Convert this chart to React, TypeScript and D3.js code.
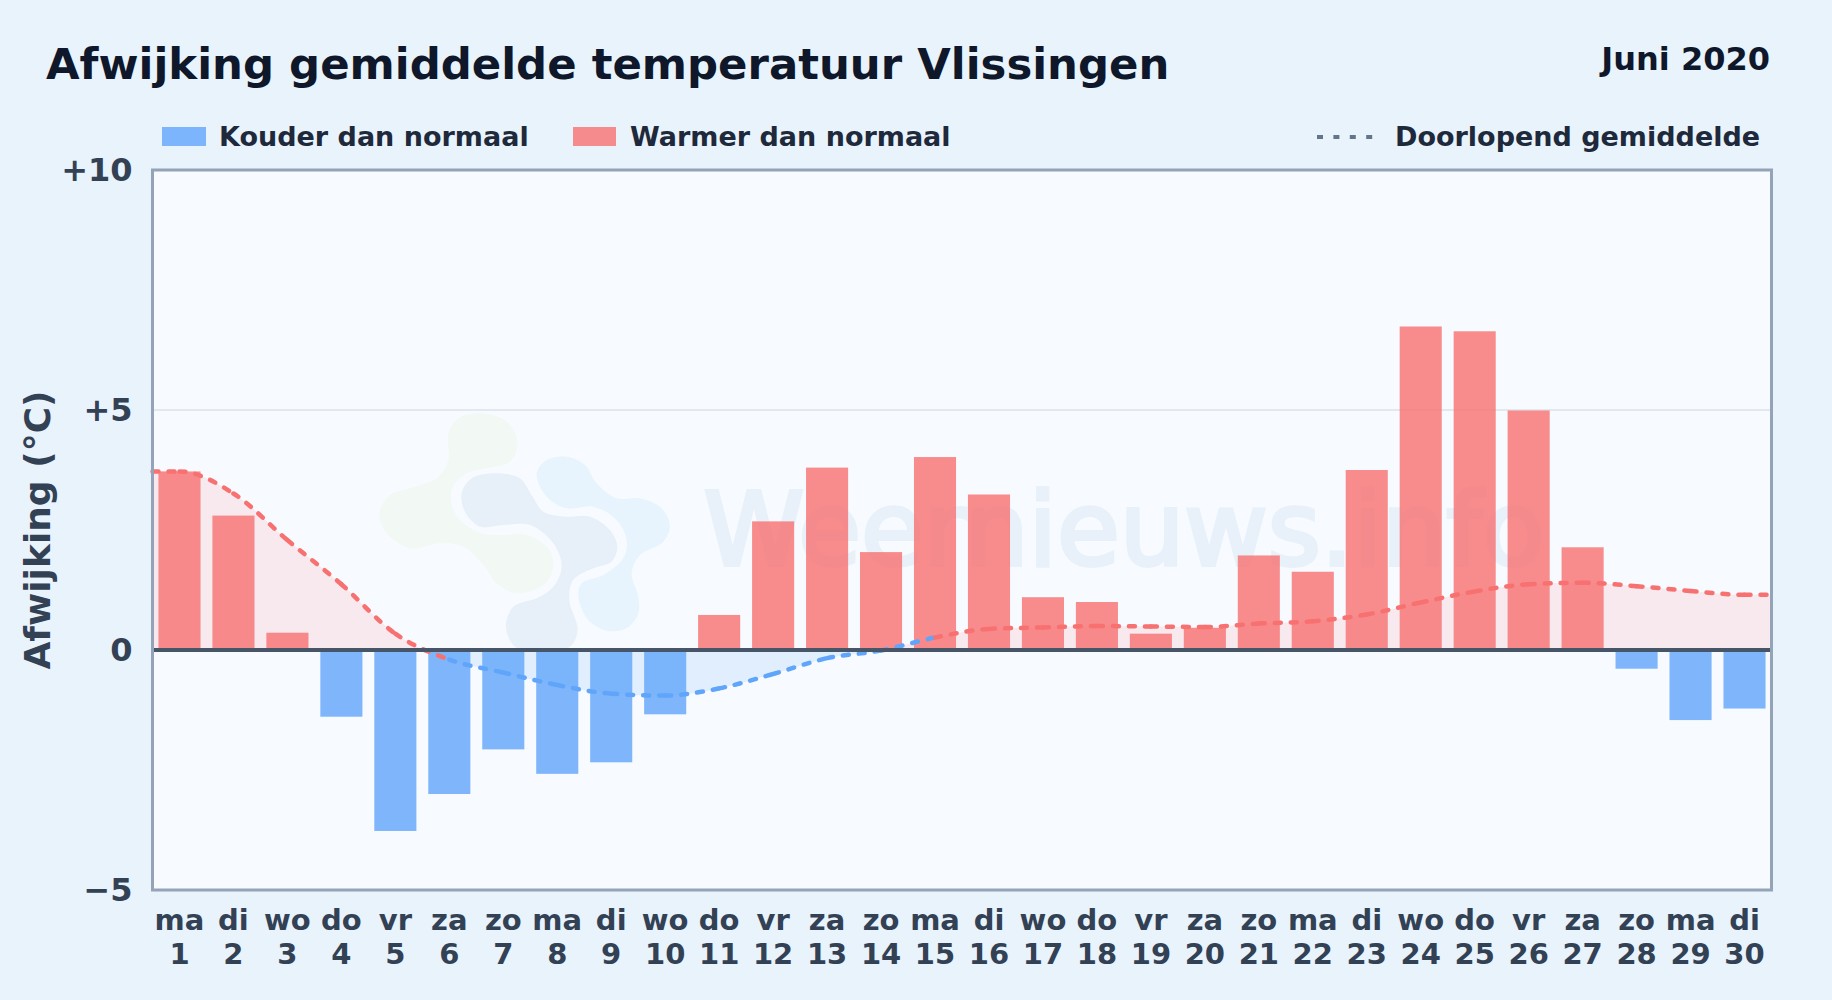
import React, { useEffect, useRef } from "react";
import * as d3 from "d3";

const weekdays = ["ma", "di", "wo", "do", "vr", "za", "zo", "ma", "di", "wo", "do", "vr", "za", "zo", "ma", "di", "wo", "do", "vr", "za", "zo", "ma", "di", "wo", "do", "vr", "za", "zo", "ma", "di"];
const days = [1, 2, 3, 4, 5, 6, 7, 8, 9, 10, 11, 12, 13, 14, 15, 16, 17, 18, 19, 20, 21, 22, 23, 24, 25, 26, 27, 28, 29, 30];
const deviations = [3.72, 2.8, 0.36, -1.39, -3.77, -3.0, -2.07, -2.58, -2.34, -1.34, 0.73, 2.68, 3.8, 2.04, 4.02, 3.24, 1.1, 1.0, 0.34, 0.46, 1.97, 1.63, 3.75, 6.74, 6.64, 4.99, 2.14, -0.39, -1.46, -1.22];
const runningMean = [3.72, 3.26, 2.29, 1.37, 0.34, -0.2, -0.47, -0.73, -0.91, -0.95, -0.8, -0.5, -0.17, -0.01, 0.26, 0.44, 0.47, 0.5, 0.49, 0.48, 0.55, 0.6, 0.74, 0.99, 1.22, 1.37, 1.4, 1.33, 1.23, 1.15];
const yTicks = [-5, 0, 5, 10];

// logo omtrek, getekend in eigen raster
const logoGreen: [number, number][] = [[325, 130], [355, 85], [425, 70], [500, 95], [533, 155], [510, 215], [440, 235], [380, 250], [335, 300], [345, 370], [410, 425], [480, 435], [560, 435], [625, 475], [640, 530], [610, 585], [530, 610], [470, 580], [430, 525], [370, 470], [300, 460], [210, 475], [140, 430], [118, 370], [150, 315], [225, 290], [290, 265], [325, 210]];
const logoNavy: [number, number][] = [[365, 310], [395, 265], [470, 250], [540, 265], [575, 315], [610, 365], [680, 380], [750, 380], [810, 420], [832, 470], [815, 515], [760, 535], [700, 570], [688, 630], [713, 720], [690, 770], [600, 785], [525, 770], [498, 710], [520, 650], [590, 625], [640, 590], [665, 530], [640, 460], [570, 405], [490, 405], [420, 410], [375, 365]];
const logoSky: [number, number][] = [[590, 250], [620, 210], [680, 200], [735, 225], [770, 280], [830, 325], [900, 325], [965, 355], [990, 410], [965, 460], [900, 495], [875, 550], [895, 620], [895, 670], [860, 715], [800, 722], [745, 690], [715, 620], [725, 580], [790, 555], [850, 505], [860, 450], [830, 390], [760, 350], [680, 355], [620, 320]];

const FONT = "'DejaVu Sans', sans-serif";
const BLUE = "#60a5fa";
const RED = "#f87171";

const App: React.FC = () => {
  const ref = useRef<SVGSVGElement | null>(null);

  useEffect(() => {
    if (!ref.current) return;
    const svg = d3.select(ref.current);
    svg.selectAll("*").remove();

    const margin = { top: 170, right: 60.5, bottom: 110, left: 152.5 };
    const W = 1832, H = 1000;
    const width = W - margin.left - margin.right;
    const height = H - margin.top - margin.bottom;

    svg.append("rect").attr("width", W).attr("height", H).attr("fill", "#e8f3fc");

    const x = d3.scaleBand<number>().domain(days).range([0, width]).paddingInner(0.22).paddingOuter(0.11);
    const y = d3.scaleLinear().domain([-5, 10]).range([height, 0]);
    const cx = (d: number) => (x(d) as number) + x.bandwidth() / 2;

    const defs = svg.append("defs");
    defs.append("clipPath").attr("id", "aboveZero").append("rect").attr("width", width).attr("height", y(0));
    defs.append("clipPath").attr("id", "belowZero").append("rect").attr("y", y(0)).attr("width", width).attr("height", height - y(0));

    // titels
    svg.append("text").attr("x", 46).attr("y", 79).attr("font-size", 43.4).attr("font-weight", 700).attr("font-family", FONT).attr("fill", "#0f172a")
      .text("Afwijking gemiddelde temperatuur Vlissingen");
    svg.append("text").attr("x", 1770).attr("y", 70).attr("text-anchor", "end").attr("font-size", 32).attr("font-weight", 700).attr("font-family", FONT).attr("fill", "#0f172a")
      .text("Juni 2020");

    // legenda
    const legendText = (tx: number, label: string) =>
      svg.append("text").attr("x", tx).attr("y", 146).attr("font-size", 27).attr("font-weight", 700).attr("font-family", FONT).attr("fill", "#1e293b").text(label);
    svg.append("rect").attr("x", 162).attr("y", 127).attr("width", 44).attr("height", 19).attr("fill", BLUE).attr("opacity", 0.8);
    legendText(219, "Kouder dan normaal");
    svg.append("rect").attr("x", 573).attr("y", 127).attr("width", 43).attr("height", 19).attr("fill", RED).attr("opacity", 0.8);
    legendText(630, "Warmer dan normaal");
    svg.append("line").attr("x1", 1317).attr("x2", 1375).attr("y1", 137).attr("y2", 137)
      .attr("stroke", "#64748b").attr("stroke-width", 4).attr("stroke-dasharray", "6 10.4");
    legendText(1395, "Doorlopend gemiddelde");

    const g = svg.append("g").attr("transform", `translate(${margin.left},${margin.top})`);
    g.append("rect").attr("width", width).attr("height", height).attr("fill", "#f7fbff");

    // raster
    g.append("line").attr("x1", 0).attr("x2", width).attr("y1", y(5)).attr("y2", y(5)).attr("stroke", "#e2e8f0").attr("stroke-width", 2);

    // watermerk
    const mark = g.append("g").attr("transform", `translate(${340 - margin.left},${390 - margin.top}) scale(0.3333)`);
    const outline = d3.line().curve(d3.curveCatmullRomClosed.alpha(0.5));
    mark.append("path").attr("d", outline(logoGreen)).attr("fill", "#f2f8f3");
    mark.append("path").attr("d", outline(logoNavy)).attr("fill", "#e7f0f8");
    mark.append("path").attr("d", outline(logoSky)).attr("fill", "#e7f4fd");
    g.append("text").attr("x", 1124 - margin.left).attr("y", 565 - margin.top).attr("text-anchor", "middle").attr("font-size", 102).attr("font-weight", 400)
      .attr("font-family", FONT).attr("fill", "#e8f1f9").attr("stroke", "#e8f1f9").attr("stroke-width", 4).text("Weernieuws.info");

    // punten van de lijn, doorgetrokken tot de randen van het vlak
    const pts: [number, number][] = [
      [0, y(runningMean[0])],
      ...days.map((d, i): [number, number] => [cx(d), y(runningMean[i])]),
      [width - 4, y(runningMean[runningMean.length - 1])],
    ];

    const area = d3.area<[number, number]>().curve(d3.curveMonotoneX).x((d) => d[0]).y0(y(0)).y1((d) => d[1]);
    g.append("path").attr("d", area(pts.concat([[width, pts[pts.length - 1][1]]]))).attr("fill", RED).attr("opacity", 0.13).attr("clip-path", "url(#aboveZero)");
    g.append("path").attr("d", area(pts)).attr("fill", BLUE).attr("opacity", 0.15).attr("clip-path", "url(#belowZero)");

    // balken
    g.selectAll("rect.bar")
      .data(deviations)
      .enter()
      .append("rect")
      .attr("class", "bar")
      .attr("x", (_, i) => x(days[i]) as number)
      .attr("width", x.bandwidth())
      .attr("y", (d) => y(Math.max(d, 0)))
      .attr("height", (d) => Math.abs(y(d) - y(0)))
      .attr("fill", (d) => (d < 0 ? BLUE : RED))
      .attr("opacity", 0.8);

    // lijn per stuk, zodat het streeppatroon elke dag opnieuw begint
    const segments: { d: string; start: number }[] = [];
    let last: [number, number] = pts[0];
    const rec: any = {
      moveTo(a: number, b: number) { last = [a, b]; },
      lineTo(a: number, b: number) { last = [a, b]; },
      closePath() {},
      bezierCurveTo(a: number, b: number, c: number, e: number, f: number, h: number) {
        const p = d3.path();
        p.moveTo(last[0], last[1]);
        p.bezierCurveTo(a, b, c, e, f, h);
        const idx = Math.min(Math.max(segments.length - 1, 0), runningMean.length - 1);
        segments.push({ d: p.toString(), start: runningMean[idx] });
        last = [f, h];
      },
    };
    d3.line().curve(d3.curveMonotoneX).context(rec)(pts);

    g.selectAll("path.mean")
      .data(segments)
      .enter()
      .append("path")
      .attr("class", "mean")
      .attr("d", (d) => d.d)
      .attr("fill", "none")
      .attr("stroke", (d) => (d.start < 0 ? BLUE : RED))
      .attr("stroke-width", 4.5)
      .attr("stroke-linecap", "round")
      .attr("stroke-dasharray", "6 10");

    // nullijn en kader
    g.append("line").attr("x1", 0).attr("x2", width).attr("y1", y(0)).attr("y2", y(0)).attr("stroke", "#475569").attr("stroke-width", 4);
    g.append("rect").attr("width", width).attr("height", height).attr("fill", "none").attr("stroke", "#94a3b8").attr("stroke-width", 3);

    // assen
    const yAxis = d3.axisLeft(y).tickValues(yTicks).tickSize(0).tickPadding(20)
      .tickFormat((d) => { const v = +d; return v > 0 ? `+${v}` : v < 0 ? `\u2212${-v}` : "0"; });
    const ya = g.append("g").call(yAxis);
    ya.select(".domain").remove();
    ya.selectAll("text").attr("font-size", 32).attr("font-weight", 700).attr("font-family", FONT).attr("fill", "#334155");

    const xAxis = d3.axisBottom(x).tickSize(0).tickFormat(() => "");
    const xa = g.append("g").attr("transform", `translate(0,${height})`).call(xAxis);
    xa.select(".domain").remove();
    xa.selectAll("text").remove();
    const labels = xa.selectAll("g.tick").append("text").attr("text-anchor", "middle").attr("font-size", 29).attr("font-weight", 700).attr("font-family", FONT).attr("fill", "#334155");
    labels.append("tspan").attr("x", 0).attr("y", 40).text((_, i) => weekdays[i]);
    labels.append("tspan").attr("x", 0).attr("y", 74).text((_, i) => String(days[i]));

    svg.append("text").attr("transform", "translate(50,530) rotate(-90)").attr("text-anchor", "middle").attr("font-size", 36).attr("font-weight", 700)
      .attr("font-family", FONT).attr("fill", "#334155").text("Afwijking (°C)");
  }, []);

  return <svg ref={ref} width={1832} height={1000} viewBox="0 0 1832 1000" style={{ position: "absolute", left: 0, top: 0, display: "block" }} />;
};

export default App;
